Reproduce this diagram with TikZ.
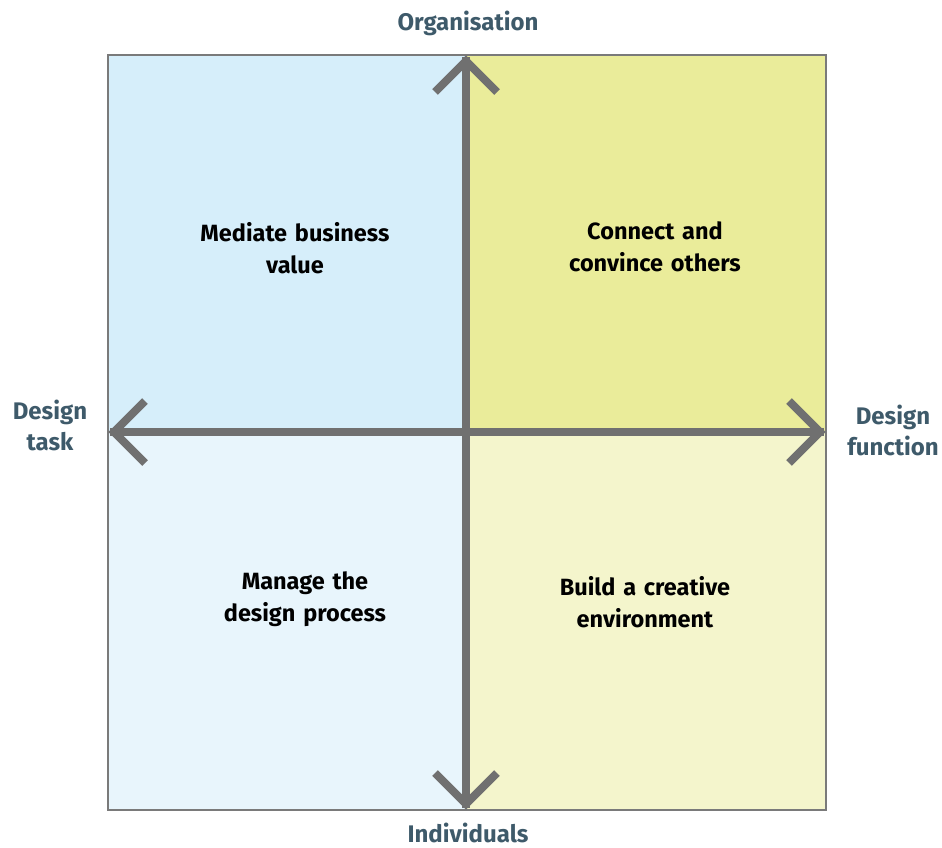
\documentclass[tikz,border=0pt]{standalone}
\usepackage{fontspec}
\setmainfont{Fira Sans}
\definecolor{qtl}{HTML}{D6EEFA}
\definecolor{qbl}{HTML}{E8F5FC}
\definecolor{qtr}{HTML}{EAEC9A}
\definecolor{qbr}{HTML}{F4F5CC}
\definecolor{axisgray}{HTML}{707070}
\definecolor{framegray}{HTML}{7A7A7A}
\definecolor{labelcol}{HTML}{3E5A6A}
\begin{document}
\begin{tikzpicture}[x=1pt,y=-1pt,
  quad/.style={text width=240pt,align=center,font=\bfseries\fontsize{23.5}{32}\selectfont,text=black},
  axislabel/.style={align=center,font=\bfseries\fontsize{24}{31}\selectfont,text=labelcol},
  axisline/.style={draw=axisgray,line width=8pt},
  chevron/.style={draw=axisgray,line width=8pt,miter limit=10}]
\useasboundingbox (0,0) rectangle (942,847);
% quadrants
\fill[qtl] (108,55) rectangle (466,432);
\fill[qtr] (466,55) rectangle (826,432);
\fill[qbl] (108,432) rectangle (466,810);
\fill[qbr] (466,432) rectangle (826,810);
\draw[framegray,line width=2pt] (108,55) rectangle (826,810);
% axis end points
\coordinate (C) at (466,432);
\coordinate (T) at (466,61);
\coordinate (B) at (466,804);
\coordinate (L) at (114,432);
\coordinate (R) at (820,432);
\draw[axisline] (466,57) -- (466,808);
\draw[axisline] (110,432) -- (824,432);
\draw[chevron] ([shift={(-31,31)}]T) -- (T) -- ([shift={(31,31)}]T);
\draw[chevron] ([shift={(-31,-31)}]B) -- (B) -- ([shift={(31,-31)}]B);
\draw[chevron] ([shift={(31,-31)}]L) -- (L) -- ([shift={(31,31)}]L);
\draw[chevron] ([shift={(-31,-31)}]R) -- (R) -- ([shift={(-31,31)}]R);
% quadrant texts
\node[quad] (tl) at (295,248) {Mediate business\\value};
\node[quad] (tr) at (655,247) {Connect and\\convince others};
\node[quad] (bl) at (305,599) {Manage the\\design process};
\node[quad] (br) at (645,602) {Build a creative\\environment};
% axis labels
\node[axislabel] (org) at (468,23) {Organisation};
\node[axislabel] (ind) at (468,833) {Individuals};
\node[axislabel] (task) at (50,425) {Design\\task};
\node[axislabel] (func) at (893,430) {Design\\function};
\end{tikzpicture}
\end{document}
